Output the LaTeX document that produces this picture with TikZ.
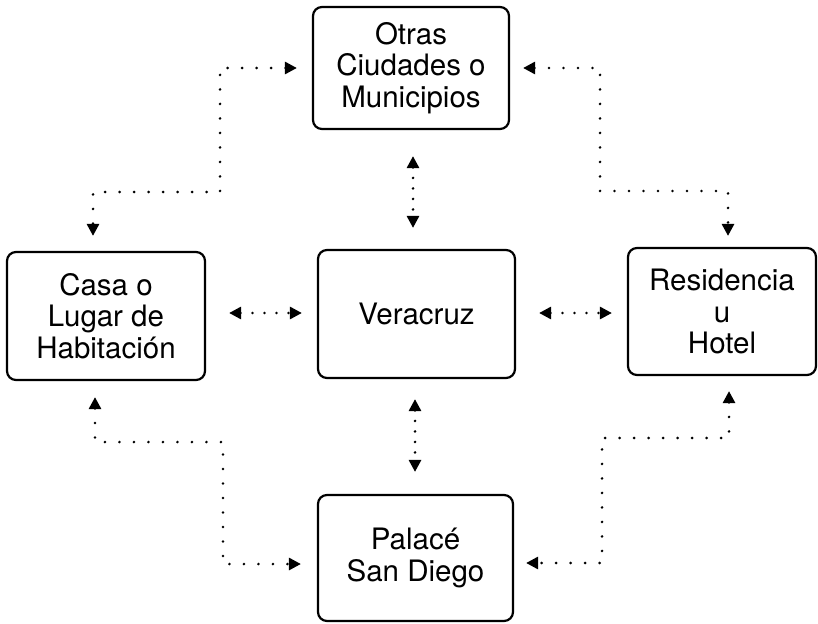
\documentclass[tikz,border=0pt]{standalone}
\usepackage{fontspec}
\setmainfont{TeX Gyre Heros}
\usetikzlibrary{arrows.meta}
\tikzset{
  box/.style={draw, line width=2.2pt, rounded corners=9pt, align=center, inner sep=0pt,
    font=\fontsize{29.5}{31.5}\selectfont, minimum width=196pt, minimum height=126pt},
  conn/.style={line width=2.8pt, line cap=round, dash pattern=on 0pt off 14.5pt,
    {Triangle[length=12pt,width=12pt]}-{Triangle[length=12pt,width=12pt]}},
  shortconn/.style={conn, dash pattern=on 0pt off 12pt}
}
\begin{document}
\begin{tikzpicture}[x=1pt,y=-1pt]
\useasboundingbox (0,0) rectangle (818,623);
\node[box, minimum height=122pt] (top) at (411,68) {Otras\\Ciudades o\\Municipios};
\node[box, minimum width=198pt, minimum height=128pt] (lft) at (106,316) {Casa o\\Lugar de\\Habitación};
\node[box, minimum width=197pt, minimum height=128pt] (ctr) at (416.5,314) {Veracruz};
\node[box, minimum width=188pt, minimum height=127pt] (rgt) at (722,311.5) {Residencia\\u\\Hotel};
\node[box, minimum width=195pt] (bot) at (415.5,558) {Palacé\\San Diego};
\coordinate (tl) at (220,192);
\coordinate (tr) at (600,191);
\coordinate (bl) at (223,442);
\coordinate (br) at (602,438);
% outer connectors
\draw[conn] ([xshift=-15pt]top.west) -| (tl) -| ([xshift=-13pt,yshift=15pt]lft.north);
\draw[conn] ([xshift=13pt]top.east) -| (tr) -| ([xshift=6pt,yshift=11pt]rgt.north);
\draw[conn] ([xshift=-11pt,yshift=-16pt]lft.south) |- (bl) |- ([xshift=-16pt,yshift=-6pt]bot.west);
\draw[conn] ([xshift=7pt,yshift=-15pt]rgt.south) |- (br) |- ([xshift=12pt,yshift=-5pt]bot.east);
% inner connectors
\draw[shortconn] ([xshift=23pt,yshift=3pt]lft.east) -- ([xshift=-15pt,yshift=1pt]ctr.west);
\draw[shortconn] ([xshift=23pt,yshift=1pt]ctr.east) -- ([xshift=-15pt,yshift=-1.5pt]rgt.west);
\draw[shortconn, dash pattern=on 0pt off 10.5pt] ([xshift=2pt,yshift=-26pt]top.south) -- ([xshift=-3.5pt,yshift=21pt]ctr.north);
\draw[shortconn, dash pattern=on 0pt off 10.5pt] ([xshift=-1.5pt,yshift=-20pt]ctr.south) -- ([xshift=-0.5pt,yshift=22pt]bot.north);
\end{tikzpicture}
\end{document}
